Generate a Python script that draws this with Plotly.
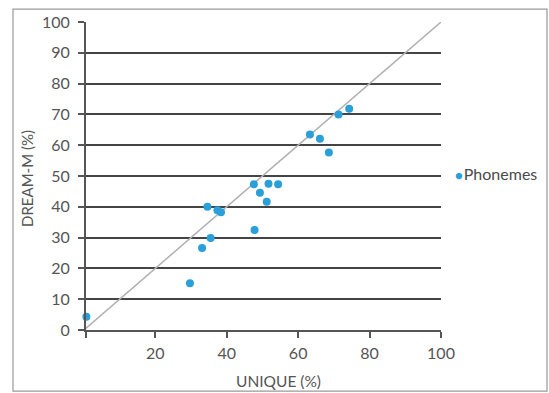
import plotly.graph_objects as go

unique_pct = [0.7, 29.7, 33.1, 35.5, 34.6, 37.4, 38.4, 47.8, 47.6, 49.3, 51.2, 51.7, 54.4,
              63.3, 66.1, 68.6, 71.3, 74.3]
dream_pct = [4.3, 15.2, 26.6, 29.9, 40.0, 38.9, 38.2, 32.5, 47.3, 44.6, 41.6, 47.5, 47.3,
             63.5, 62.1, 57.6, 70.0, 71.8]
series_name = "Phonemes"
x_ticks = [20, 40, 60, 80, 100]
y_ticks = [0, 10, 20, 30, 40, 50, 60, 70, 80, 90, 100]

W, H = 549, 393
L, R, T, B = 86, 108, 18, 63
pw, ph = W - L - R, H - T - B

def px_to_paper_x(px):
    return (px - L) / pw

def px_to_paper_y(py):
    return 1 - (py - T) / ph

font_family = "Lato, 'Open Sans', sans-serif"
txt = "#555555"
blue = "#2a9fd8"

fig = go.Figure()
fig.add_trace(go.Scatter(x=[0, 100], y=[0, 100], mode="lines",
                         line=dict(color="#b0b0b0", width=1.5),
                         hoverinfo="skip", showlegend=False))
fig.add_trace(go.Scatter(x=unique_pct, y=dream_pct, mode="markers", name=series_name,
                         marker=dict(color=blue, size=8), cliponaxis=False,
                         showlegend=False))

fig.update_layout(
    width=W, height=H,
    margin=dict(l=L, r=R, t=T, b=B),
    paper_bgcolor="white", plot_bgcolor="white",
    font=dict(family=font_family, color=txt, size=16),
    xaxis=dict(range=[0.6, 100], tickvals=[0.6] + x_ticks, ticktext=[""] + [str(v) for v in x_ticks],
               showgrid=False, zeroline=False,
               showline=True, linecolor="#555555", linewidth=2,
               ticks="outside", ticklen=6, tickwidth=1.5, tickcolor="#555555",
               ticklabelstandoff=2,
               tickfont=dict(size=16, color=txt)),
    yaxis=dict(range=[0, 100], tickvals=y_ticks,
               showgrid=True, gridcolor="#444444", gridwidth=2, zeroline=False,
               showline=True, linecolor="#555555", linewidth=2,
               ticks="outside", ticklen=6, tickwidth=2, tickcolor="#555555",
               ticklabelstandoff=5,
               tickfont=dict(size=16, color=txt)),
    annotations=[
        dict(text="UNIQUE (%)", xref="paper", yref="paper",
             x=px_to_paper_x(278), y=px_to_paper_y(382), showarrow=False,
             font=dict(size=15.5, color=txt), xanchor="center", yanchor="middle"),
        dict(text="DREAM-M (%)", xref="paper", yref="paper",
             x=px_to_paper_x(27), y=px_to_paper_y(177), showarrow=False, textangle=-90,
             font=dict(size=15, color=txt), xanchor="center", yanchor="middle"),
        dict(text=f"<span style='color:{blue};font-size:13px'>●</span>&#8202;{series_name}",
             xref="paper", yref="paper",
             x=px_to_paper_x(453), y=px_to_paper_y(171), showarrow=False,
             font=dict(size=16, color="#4a4a4a"), xanchor="left", yanchor="middle"),
    ],
    shapes=[
        dict(type="rect", xref="paper", yref="paper",
             x0=px_to_paper_x(13), x1=px_to_paper_x(547),
             y0=px_to_paper_y(392), y1=px_to_paper_y(5),
             line=dict(color="#999999", width=1.2), layer="below"),
    ],
)

fig.write_html("out.html", config={"displayModeBar": False},
               post_script="document.body.style.margin='0';document.body.style.overflow='hidden';")
